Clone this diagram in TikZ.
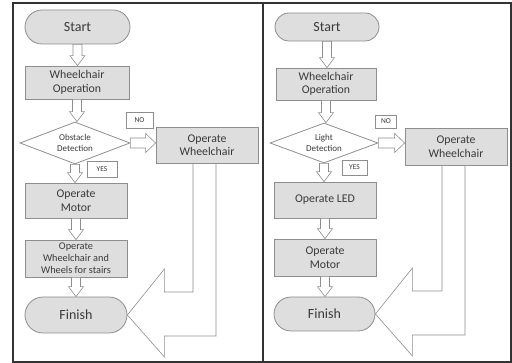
\documentclass[tikz,border=0pt]{standalone}
\usepackage{fontspec}
\setmainfont{Carlito}
\usetikzlibrary{shapes.geometric,calc}
\definecolor{boxfill}{HTML}{DEDEDE}
\definecolor{boxline}{HTML}{8E8E8E}
\definecolor{txt}{HTML}{3A3A3A}
\definecolor{framecol}{HTML}{333333}
\tikzset{
  procbox/.style={draw=boxline, fill=boxfill, line width=0.8pt, align=center, inner sep=0pt, text=txt,
    font=\fontsize{11.8}{13.5}\selectfont},
  termbox/.style={procbox, font=\fontsize{14}{16}\selectfont},
  smallproc/.style={procbox, font=\fontsize{10.3}{12}\selectfont},
  decbox/.style={diamond, draw=boxline, fill=white, line width=0.8pt, align=center, inner sep=0pt, text=txt,
    aspect=2.6, font=\fontsize{9}{10.5}\selectfont},
  lblbox/.style={draw=boxline, fill=white, line width=0.6pt, inner sep=0pt, text=txt,
    font=\fontsize{7.5}{9}\selectfont},
  harrow/.style={draw=boxline, fill=white, line width=0.6pt, line join=miter},
  bigarrow/.style={draw=boxline, line width=0.6pt, line join=miter},
  panel/.style={draw=framecol, line width=1.1pt},
}
\newcommand\hdown[2]{\draw[harrow] let \p1=(#1.south), \p2=(#2.north) in
  (\x1-4.5pt,\y1) -- (\x1+4.5pt,\y1) -- (\x1+4.5pt,\y2+10pt) -- (\x1+7.5pt,\y2+10pt) -- (\x1,\y2)
  -- (\x1-7.5pt,\y2+10pt) -- (\x1-4.5pt,\y2+10pt) -- cycle;}
\newcommand\hright[2]{\draw[harrow] let \p1=(#1.east), \p2=(#2.west) in
  (\x1,\y1+5pt) -- (\x2-10pt,\y1+5pt) -- (\x2-10pt,\y1+9.5pt) -- (\x2,\y1)
  -- (\x2-10pt,\y1-9.5pt) -- (\x2-10pt,\y1-5pt) -- (\x1,\y1-5pt) -- cycle;}
\newcommand\hbig[2]{\draw[bigarrow] let \p1=(#1.south), \p2=(#2.east) in
  (\x1-14pt,\y1) -- (\x1-14pt,\y2+23pt) -- (\x2+37pt,\y2+23pt) -- (\x2+37pt,\y2+46pt) -- (\p2)
  -- (\x2+37pt,\y2-42pt) -- (\x2+37pt,\y2-21pt) -- (\x1+9pt,\y2-21pt) -- (\x1+9pt,\y1);}
\begin{document}
\begin{tikzpicture}[x=1pt,y=-1pt]
\useasboundingbox (0,0) rectangle (512,363);
\fill[white] (0,0) rectangle (512,363);
\draw[panel] (13,3) rectangle (511,362);
\draw[panel] (263,3) -- (263,362);

% ---------- left panel ----------
\node[termbox, minimum width=105pt, minimum height=34pt, rounded corners=17pt] (S1) at (77.5,27) {Start};
\node[procbox, minimum width=104pt, minimum height=33pt] (W1) at (77,82.5) {Wheelchair\\Operation};
\node[decbox, minimum width=110pt, minimum height=42pt] (D1) at (75,143) {Obstacle\\Detection};
\node[lblbox, minimum width=27pt, minimum height=16pt] (N1) at (139.5,120) {NO};
\node[procbox, minimum width=102pt, minimum height=36pt] (O1) at (207,145) {Operate\\Wheelchair};
\node[lblbox, minimum width=30pt, minimum height=16pt] (Y1) at (102,169) {YES};
\node[procbox, minimum width=102pt, minimum height=35pt] (M1) at (76,200.5) {Operate\\Motor};
\node[smallproc, minimum width=102pt, minimum height=37pt] (T1) at (76,258.5) {Operate\\Wheelchair and\\Wheels for stairs};
\node[termbox, minimum width=102pt, minimum height=36pt, rounded corners=18pt] (F1) at (76,315) {Finish};

\hdown{S1}{W1}
\hdown{W1}{D1}
\hright{D1}{O1}
\hdown{D1}{M1}
\hdown{M1}{T1}
\hdown{T1}{F1}
\hbig{O1}{F1}

% ---------- right panel ----------
\node[termbox, minimum width=104pt, minimum height=28pt, rounded corners=14pt] (S2) at (327,27) {Start};
\node[procbox, minimum width=100pt, minimum height=32pt] (W2) at (326,84) {Wheelchair\\Operation};
\node[decbox, minimum width=108pt, minimum height=40pt] (D2) at (324,143) {Light\\Detection};
\node[lblbox, minimum width=21pt, minimum height=13pt] (N2) at (386,121.5) {NO};
\node[procbox, minimum width=102pt, minimum height=37pt] (O2) at (456,146.5) {Operate\\Wheelchair};
\node[lblbox, minimum width=25pt, minimum height=15pt] (Y2) at (354.5,167.5) {YES};
\node[procbox, minimum width=102pt, minimum height=36pt] (L2) at (325,200) {Operate LED};
\node[procbox, minimum width=102pt, minimum height=37pt] (M2) at (325,257.5) {Operate\\Motor};
\node[termbox, minimum width=101pt, minimum height=34pt, rounded corners=17pt] (F2) at (324.5,314) {Finish};

\hdown{S2}{W2}
\hdown{W2}{D2}
\hright{D2}{O2}
\hdown{D2}{L2}
\hdown{L2}{M2}
\hdown{M2}{F2}
\hbig{O2}{F2}
\end{tikzpicture}
\end{document}
